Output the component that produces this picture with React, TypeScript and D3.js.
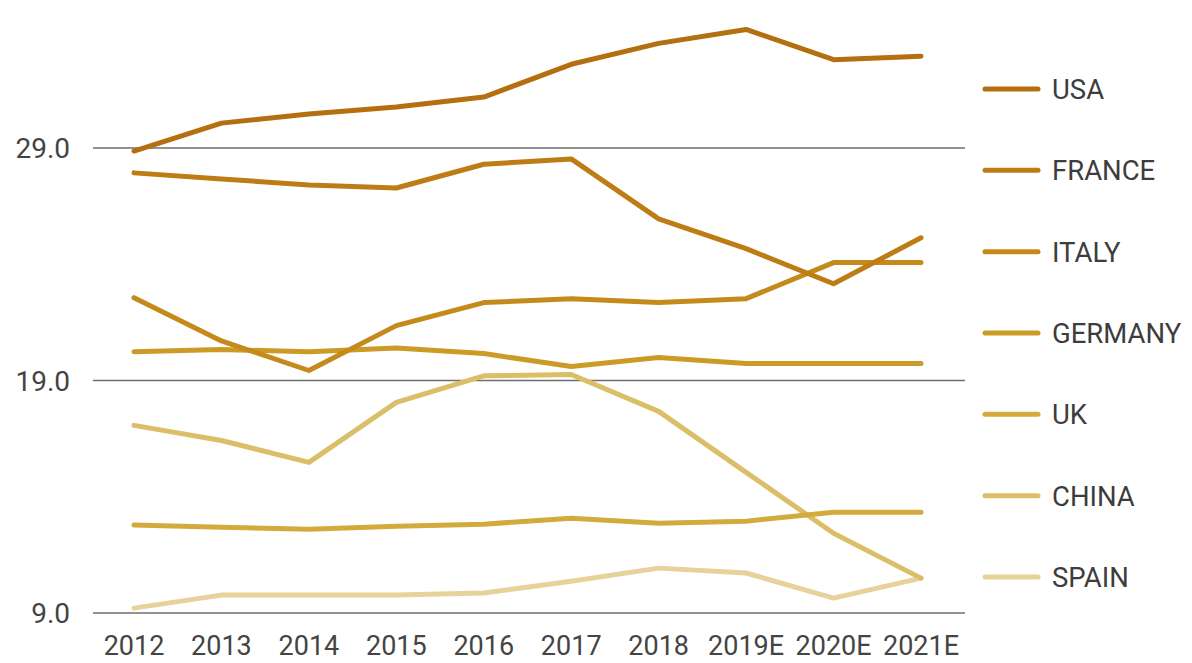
import React from "react";
import * as d3 from "d3";

const years = ["2012", "2013", "2014", "2015", "2016", "2017", "2018", "2019E", "2020E", "2021E"];
const yTicks = [9, 19, 29];

const usa = [28.87, 30.07, 30.46, 30.76, 31.19, 32.6, 33.5, 34.1, 32.8, 32.95];
const france = [27.93, 27.67, 27.41, 27.28, 28.3, 28.53, 25.95, 24.67, 23.16, 25.14];
const italy = [22.56, 20.7, 19.43, 21.36, 22.35, 22.52, 22.35, 22.52, 24.07, 24.07];
const germany = [20.24, 20.33, 20.24, 20.4, 20.16, 19.6, 19.99, 19.73, 19.73, 19.73];
const uk = [12.78, 12.69, 12.6, 12.73, 12.82, 13.08, 12.86, 12.95, 13.33, 13.33];
const china = [17.07, 16.42, 15.48, 18.06, 19.2, 19.26, 17.67, 15.05, 12.43, 10.5];
const spain = [9.21, 9.77, 9.77, 9.77, 9.86, 10.37, 10.93, 10.72, 9.64, 10.5];

const seriesNames = ["USA", "FRANCE", "ITALY", "GERMANY", "UK", "CHINA", "SPAIN"];
const seriesValues = [usa, france, italy, germany, uk, china, spain];
const seriesColors = ["#b46f10", "#bd7c14", "#c58a1c", "#cc9b26", "#d3ab3c", "#dbbe68", "#e6d29a"];

export default function App() {
  const width = 1192;
  const height = 663;
  const x = d3.scalePoint<string>().domain(years).range([134, 921]);
  const y = d3.scaleLinear().domain([9, 29]).range([613, 148]);
  const line = d3
    .line<number>()
    .x((_, i) => x(years[i]) as number)
    .y((d) => y(d));

  const legendY = d3.scalePoint<string>().domain(seriesNames).range([89, 577]);
  const labelBaseline = 655;

  return (
    <svg
      width={width}
      height={height}
      style={{ position: "absolute", left: 0, top: 0, background: "#fff" }}
      fontFamily="Roboto, sans-serif"
    >
      {yTicks.map((t) => (
        <g key={t}>
          <line x1={93} x2={965} y1={y(t)} y2={y(t)} stroke="#6e6e6e" strokeWidth={1.3} />
          <text x={70} y={y(t)} dy="0.36em" textAnchor="end" fontSize={28} fill="#444">
            {t.toFixed(1)}
          </text>
        </g>
      ))}
      {years.map((yr) => (
        <text
          key={yr}
          x={x(yr)}
          y={labelBaseline}
          textAnchor="middle"
          fontSize={27}
          fill="#444"
        >
          {yr}
        </text>
      ))}
      {seriesValues
        .map((vals, i) => ({ vals, i }))
        .reverse()
        .map(({ vals, i }) => (
          <path
            key={seriesNames[i]}
            d={line(vals) || ""}
            fill="none"
            stroke={seriesColors[i]}
            strokeWidth={5}
            strokeLinejoin="round"
            strokeLinecap="round"
          />
        ))}
      {seriesNames.map((name, i) => {
        const ly = legendY(name) as number;
        return (
          <g key={name}>
            <line x1={985} x2={1038} y1={ly} y2={ly} stroke={seriesColors[i]} strokeWidth={5} strokeLinecap="round" />
            <text x={1052} y={ly} dy="0.36em" fontSize={27.5} fill="#3d3d3d">
              {name}
            </text>
          </g>
        );
      })}
    </svg>
  );
}
